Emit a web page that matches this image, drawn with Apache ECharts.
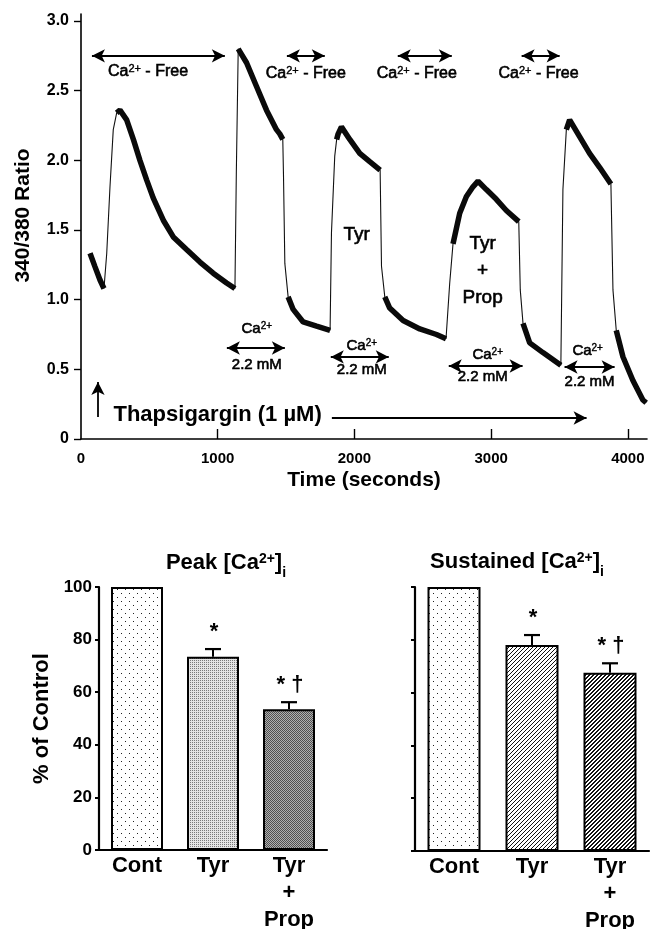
<!DOCTYPE html>
<html><head><meta charset="utf-8">
<script src="https://cdn.jsdelivr.net/npm/echarts@6/dist/echarts.min.js"></script>
<style>html,body{margin:0;padding:0;background:#fff}#c{width:652px;height:929px}</style>
</head><body><div id="c"></div>
<script>
// ---------- Data: fura-2 trace (time in s, 340/380 ratio); noisy flag = segment to next point is noisy
const traceTime  = [66,102,139,168, 188,212,236,261, 285,334,383,431,480,528,602,675,772,870,967,1065,1126, 1130,1136,1150, 1211,1284,1357,1430,1454,1476, 1481,1491,1515, 1552,1625,1723,1822, 1832,1856,1870, 1881,1905,1966,2039,2112,2188, 2198,2222, 2258,2356,2478,2600,2670, 2697,2721, 2770,2819,2867,2904,2965,3038,3111,3202, 3213,3233, 3282,3379,3510, 3525,3550, 3574,3647,3720,3793,3876, 3891,3915, 3964,4037,4110,4134];
const traceRatio = [1.333,1.237,1.141,1.08, 1.33,1.81,2.22,2.34, 2.36,2.29,2.15,2.00,1.86,1.73,1.57,1.45,1.36,1.27,1.19,1.12,1.08, 1.07,1.9,2.80, 2.70,2.53,2.36,2.22,2.19,2.15, 1.9,1.26,1.02, 0.93,0.84,0.81,0.78, 1.48,2.03,2.15, 2.19,2.24,2.15,2.05,1.99,1.93, 1.24,1.02, 0.94,0.85,0.79,0.75,0.72, 1.12,1.40, 1.62,1.74,1.81,1.85,1.79,1.72,1.64,1.56, 1.07,0.83, 0.69,0.62,0.53, 1.79,2.22, 2.29,2.17,2.05,1.95,1.83, 1.07,0.78, 0.59,0.42,0.28,0.26];
const traceNoisy = [1,1,1,0, 0,0,0,1, 1,1,1,1,1,1,1,1,1,1,1,1,0, 0,0,1, 1,1,1,1,1,0, 0,0,1, 1,1,1,0, 0,0,1, 1,1,1,1,1,0, 0,1, 1,1,1,1,0, 0,1, 1,1,1,1,1,1,1,0, 0,1, 1,1,0, 0,1, 1,1,1,1,0, 0,1, 1,1,1,0];
const timeTicks  = [0,1000,2000,3000,4000];
const ratioTicks = [0,0.5,1.0,1.5,2.0,2.5,3.0];

// annotations (data coordinates)
const freeArrows = [[80,1052],[1506,1783],[2317,2712],[3223,3501]];
const freeArrowRatio = 2.75;
const freeLabels = [[490,2.64],[1644,2.62],[2456,2.62],[3347,2.62]];
const caArrows = [[1067,1491,0.653],[1827,2251,0.589],[2690,3230,0.524],[3537,3903,0.517]];
const caLabels = [[1286,0.79],[2054,0.668],[2975,0.603],[3706,0.632]];
const mMLabels = [[1286,0.531],[2054,0.495],[2938,0.445],[3720,0.409]];
const thapsArrow = [124,0.158,0.409];
const thapsText = [234,0.172];
const thapsLongArrow = [1835,3698,0.151];
const tyrLabel = [2017,1.464];
const tyrPropLabel = [2938,1.206];

// bar charts
const barCategories = ['Cont','Tyr','Tyr\n+\nProp'];
const peakValues = [100,73.5,53.5];
const peakErrors = [0,2.9,2.7];
const sustainedValues = [100,78.0,67.5];
const sustainedErrors = [0,3.8,3.6];
const peakSig = ['','*','* \u2020'];
const sustainedSig = ['','*','* \u2020'];

const FONT = "'Liberation Sans', Arial, Helvetica, sans-serif";

// ---------- patterns
function mk(w,h,fn){const c=document.createElement('canvas');c.width=w;c.height=h;const g=c.getContext('2d');fn(g);return c;}
const dotPat = mk(8,8,g=>{g.fillStyle='#fff';g.fillRect(0,0,8,8);g.fillStyle='#222';g.fillRect(1,1,1,1);g.fillRect(5,5,1,1);});
const checkLight = mk(2,2,g=>{g.fillStyle='#e4e4e4';g.fillRect(0,0,2,2);g.fillStyle='#7a7a7a';g.fillRect(0,0,1,1);});
const checkDark = mk(2,2,g=>{g.fillStyle='#b0b0b0';g.fillRect(0,0,2,2);g.fillStyle='#505050';g.fillRect(0,0,1,1);g.fillRect(1,1,1,1);});
const hatchLight = mk(4,4,g=>{g.fillStyle='#fff';g.fillRect(0,0,4,4);g.fillStyle='#111';for(let x=0;x<4;x++){g.fillRect(x,(3-x+4)%4,1,1);}});
const hatchDark = mk(4,4,g=>{g.fillStyle='#fff';g.fillRect(0,0,4,4);g.fillStyle='#111';for(let x=0;x<4;x++){g.fillRect(x,(3-x+4)%4,1,1);g.fillRect(x,(4-x)%4,1,1);}});
const pat = c => ({image:c, repeat:'repeat'});
const peakPatterns = [dotPat, checkLight, checkDark];
const sustPatterns = [dotPat, hatchLight, hatchDark];

// ---------- build trace series data
const traceData = traceTime.map((t,i)=>[t,traceRatio[i]]);
const noisyData = traceTime.map((t,i)=> (traceNoisy[i] || (i>0 && traceNoisy[i-1])) ? [t,traceRatio[i]] : [t,'-']);

const supRich = (fs)=>({sup:{fontSize:fs, fontFamily:FONT, color:'#000', verticalAlign:'top', lineHeight:fs, textBorderColor:'#000', textBorderWidth:0.4}});

function txt(pt, text, fs, extra){
  return {value:[pt[0],pt[1]], label:Object.assign({show:true, position:'inside', formatter:text, fontSize:fs, fontFamily:FONT, color:'#000',
    textBorderColor:'#000', textBorderWidth:0.6, rich:supRich(Math.round(fs*0.66))}, extra||{})};
}
const annoData = [];
freeLabels.forEach(p=>annoData.push(txt(p,'Ca{sup|2+} - Free',16)));
caLabels.forEach(p=>annoData.push(txt(p,'Ca{sup|2+}',15)));
mMLabels.forEach(p=>annoData.push(txt(p,'2.2 mM',15)));
annoData.push(txt(thapsText,'Thapsigargin (1 \u00b5M)',22,{position:'right', distance:0, fontWeight:'bold', textBorderWidth:0}));
annoData.push(txt(tyrLabel,'Tyr',19));
annoData.push(txt(tyrPropLabel,'Tyr\n+\nProp',19,{lineHeight:27}));

const arrowLines = [];
freeArrows.forEach(a=>arrowLines.push([{coord:[a[0],freeArrowRatio]},{coord:[a[1],freeArrowRatio]}]));
caArrows.forEach(a=>arrowLines.push([{coord:[a[0],a[2]]},{coord:[a[1],a[2]]}]));
arrowLines.push([{coord:[thapsArrow[0],thapsArrow[1]],symbol:'none'},{coord:[thapsArrow[0],thapsArrow[2]],symbol:'arrow'}]);
arrowLines.push([{coord:[thapsLongArrow[0],thapsLongArrow[2]],symbol:'none'},{coord:[thapsLongArrow[1],thapsLongArrow[2]],symbol:'arrow'}]);

function errSeries(xi, values, errors, sigs){
  return {
    type:'custom', coordinateSystem:'cartesian2d', xAxisIndex:xi, yAxisIndex:xi, z:5, silent:true,
    data: values.map((v,i)=>[i,v,errors[i]]),
    renderItem:(params, api)=>{
      const i=api.value(0), v=api.value(1), e=api.value(2);
      const sig = sigs[params.dataIndex];
      if(!e && !sig) return {type:'group', children:[]};
      const p0=api.coord([i,v]), p1=api.coord([i,v+e]);
      const ch=[
        {type:'line', shape:{x1:p0[0],y1:p0[1],x2:p1[0],y2:p1[1]}, style:{stroke:'#000', lineWidth:2}},
        {type:'line', shape:{x1:p1[0]-8,y1:p1[1],x2:p1[0]+8,y2:p1[1]}, style:{stroke:'#000', lineWidth:2.2}},
        {type:'text', x:p1[0]+1, y:p1[1]-17, style:{text:sig, fontSize:22, fontWeight:'bold', fontFamily:FONT, fill:'#000', align:'center', verticalAlign:'middle'}}
      ];
      return {type:'group', children:ch};
    }
  };
}

const axisBlack = {lineStyle:{color:'#000', width:1.6}};
const bold = (fs)=>({color:'#000', fontFamily:FONT, fontWeight:'bold', fontSize:fs});

const option = {
  animation:false,
  backgroundColor:'#fff',
  grid:[
    {left:81, top:14, width:566, height:425, outerBoundsMode:'none', containLabel:false},
    {left:99, top:587, width:228, height:263, outerBoundsMode:'none', containLabel:false},
    {left:415, top:587, width:234, height:264, outerBoundsMode:'none', containLabel:false}
  ],
  xAxis:[
    {gridIndex:0, type:'value', min:0, max:4140, axisLine:Object.assign({onZero:false},axisBlack),
     axisTick:{inside:true, length:10, lineStyle:{color:'#000', width:1.4}, customValues:timeTicks.slice(1)},
     axisLabel:Object.assign({margin:12, customValues:timeTicks, formatter:v=>String(v)}, bold(15)),
     splitLine:{show:false},
     name:'Time (seconds)', nameLocation:'middle', nameGap:31, nameTextStyle:bold(21)},
    {gridIndex:1, type:'category', data:barCategories, axisLine:{lineStyle:{color:'#000', width:2.2}},
     axisTick:{show:false}, axisLabel:Object.assign({interval:0, margin:2, lineHeight:27}, bold(22))},
    {gridIndex:2, type:'category', data:barCategories, axisLine:{lineStyle:{color:'#000', width:2.2}},
     axisTick:{show:false}, axisLabel:Object.assign({interval:0, margin:2, lineHeight:27}, bold(22))}
  ],
  yAxis:[
    {gridIndex:0, type:'value', min:0, max:3.05, axisLine:Object.assign({show:true},axisBlack),
     axisTick:{show:true, length:7, lineStyle:{color:'#000', width:1.4}, customValues:ratioTicks},
     axisLabel:Object.assign({margin:12, customValues:ratioTicks, formatter:v=>v===0?'0':v.toFixed(1)}, bold(16)),
     splitLine:{show:false},
     name:'340/380 Ratio', nameLocation:'middle', nameGap:47, nameRotate:90, nameTextStyle:Object.assign({padding:[0,0,0,22]},bold(21))},
    {gridIndex:1, type:'value', min:0, max:100, interval:20, axisLine:{show:true, lineStyle:{color:'#000', width:2.2}},
     axisTick:{show:true, length:4, lineStyle:{color:'#000', width:2}},
     axisLabel:Object.assign({margin:7}, bold(17)), splitLine:{show:false},
     name:'% of Control', nameLocation:'middle', nameGap:46, nameRotate:90, nameTextStyle:bold(22)},
    {gridIndex:2, type:'value', min:0, max:100, interval:20, axisLine:{show:true, lineStyle:{color:'#000', width:2.2}},
     axisTick:{show:true, length:4, lineStyle:{color:'#000', width:2}},
     axisLabel:{show:false}, splitLine:{show:false}}
  ],
  graphic:[
    {type:'text', x:226, y:563, style:{text:'Peak [Ca{sup|2+}]{sub|i}', fontSize:22, fontWeight:'bold', fontFamily:FONT, fill:'#000', align:'center', verticalAlign:'middle',
      rich:{sup:{fontSize:14, fontWeight:'bold', fontFamily:FONT, verticalAlign:'top', lineHeight:14}, sub:{fontSize:14, fontWeight:'bold', fontFamily:FONT, verticalAlign:'bottom', lineHeight:14, padding:[0,0,-6,0]}}}},
    {type:'text', x:517, y:562, style:{text:'Sustained [Ca{sup|2+}]{sub|i}', fontSize:22, fontWeight:'bold', fontFamily:FONT, fill:'#000', align:'center', verticalAlign:'middle',
      rich:{sup:{fontSize:14, fontWeight:'bold', fontFamily:FONT, verticalAlign:'top', lineHeight:14}, sub:{fontSize:14, fontWeight:'bold', fontFamily:FONT, verticalAlign:'bottom', lineHeight:14, padding:[0,0,-6,0]}}}}
  ],
  series:[
    {type:'line', xAxisIndex:0, yAxisIndex:0, data:traceData, showSymbol:false, symbol:'none', silent:true,
     lineStyle:{color:'#111', width:1.1}},
    {type:'line', xAxisIndex:0, yAxisIndex:0, data:noisyData, showSymbol:false, symbol:'none', silent:true, connectNulls:false,
     lineStyle:{color:'#0a0a0a', width:5.5}},
    {type:'scatter', xAxisIndex:0, yAxisIndex:0, symbolSize:1, itemStyle:{color:'rgba(0,0,0,0)', opacity:1}, silent:true, data:annoData,
     markLine:{silent:true, symbol:['arrow','arrow'], symbolSize:[10,13], label:{show:false},
       lineStyle:{color:'#000', width:1.8, type:'solid'}, emphasis:{disabled:true}, data:arrowLines}},
    {type:'bar', xAxisIndex:1, yAxisIndex:1, barWidth:52, silent:true,
     itemStyle:{borderColor:'#000', borderWidth:2},
     data:peakValues.map((v,i)=>({value:v, itemStyle:{color:pat(peakPatterns[i])}}))},
    errSeries(1, peakValues, peakErrors, peakSig),
    {type:'bar', xAxisIndex:2, yAxisIndex:2, barWidth:53, silent:true,
     itemStyle:{borderColor:'#000', borderWidth:2},
     data:sustainedValues.map((v,i)=>({value:v, itemStyle:{color:pat(sustPatterns[i])}}))},
    errSeries(2, sustainedValues, sustainedErrors, sustainedSig)
  ]
};
const chart = echarts.init(document.getElementById('c'), null, {renderer:'canvas'});
chart.setOption(option);
</script></body></html>
